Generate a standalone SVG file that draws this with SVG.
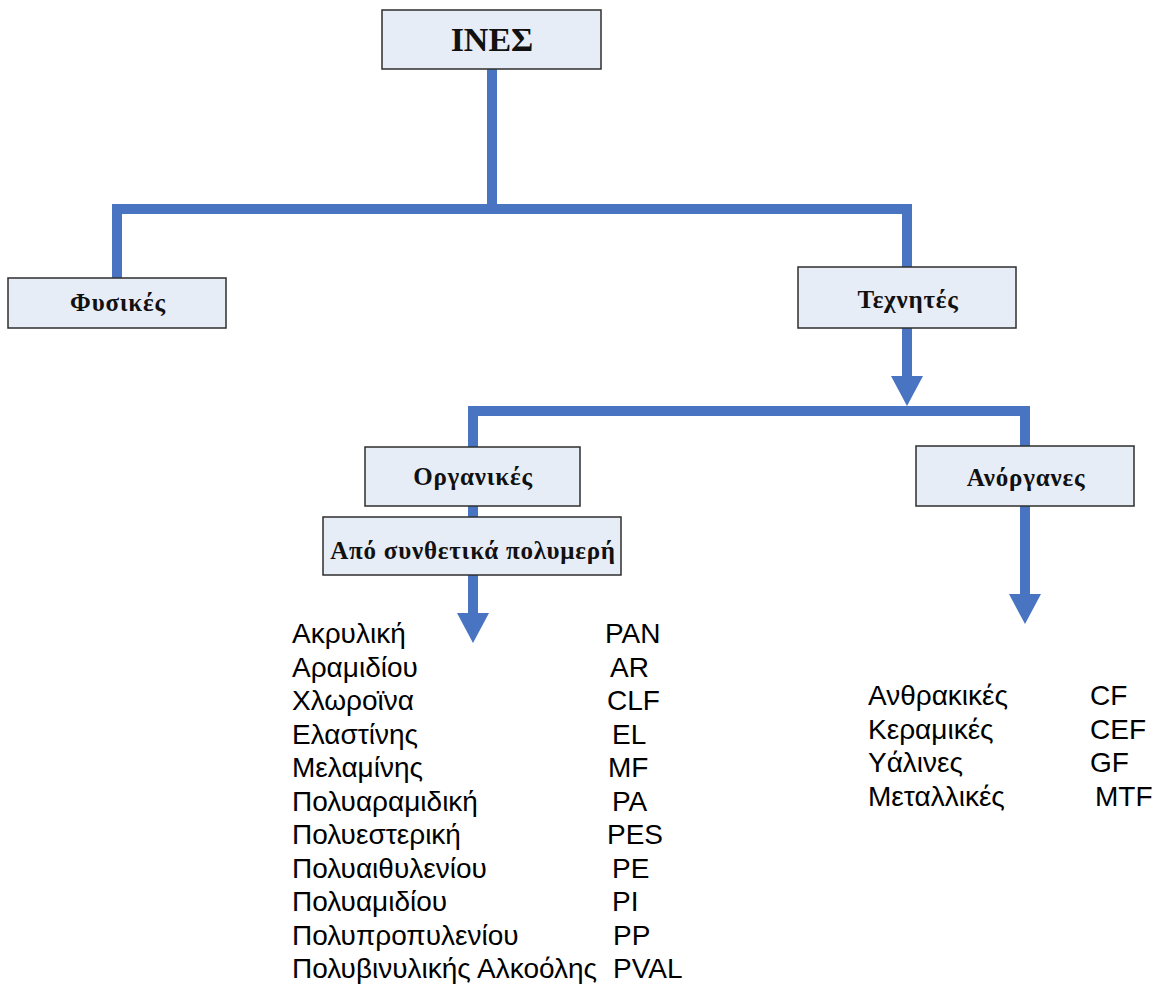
<svg xmlns="http://www.w3.org/2000/svg" width="1157" height="988" viewBox="0 0 1157 988">
<style>
.box{fill:#e7edf7;stroke:#2e2e2e;stroke-width:1.5}
.lbl{font-family:"Liberation Serif","DejaVu Serif",serif;font-weight:bold;fill:#111;text-anchor:middle;font-size:25px;letter-spacing:0.8px}
.con{fill:none;stroke:#4874c1;stroke-width:10;stroke-linejoin:miter}
.lst{font-family:"Liberation Sans",Arial,sans-serif;font-size:28px;fill:#000}
</style>
<defs>
<marker id="ah" markerUnits="userSpaceOnUse" markerWidth="30" markerHeight="32" refX="0" refY="16" orient="auto" viewBox="0 0 30 32">
<path d="M0,0 L30,16 L0,32 z" fill="#4874c1"/>
</marker>
</defs>
<rect width="1157" height="988" fill="#fff"/>
<g id="connectors">
<path class="con" d="M492,68 V209"/>
<path class="con" d="M117,278 V209 H907 V267"/>
<path class="con" d="M907,328 V376" marker-end="url(#ah)"/>
<path class="con" d="M473,447 V411 H1025 V446"/>
<path class="con" d="M473,506 V613" marker-end="url(#ah)"/>
<path class="con" d="M1025,506 V594" marker-end="url(#ah)"/>
</g>
<g id="ines">
<rect class="box" x="382" y="10" width="219" height="59"/>
<text class="lbl" x="492" y="51" style="font-size:34px;letter-spacing:0">ΙΝΕΣ</text>
</g>
<g id="fysikes">
<rect class="box" x="8" y="278" width="218" height="50"/>
<text class="lbl" x="118" y="311">Φυσικές</text>
</g>
<g id="technites">
<rect class="box" x="798" y="267" width="218" height="61"/>
<text class="lbl" x="908" y="308">Τεχνητές</text>
</g>
<g id="organikes">
<rect class="box" x="365" y="447" width="215" height="59"/>
<text class="lbl" x="473" y="485">Οργανικές</text>
</g>
<g id="synthetika">
<rect class="box" x="323" y="517" width="298" height="58"/>
<text class="lbl" x="473" y="559">Από συνθετικά πολυμερή</text>
</g>
<g id="anorganes">
<rect class="box" x="916" y="446" width="218" height="60"/>
<text class="lbl" x="1026" y="486">Ανόργανες</text>
</g>
<g id="organic-list" class="lst">
<text x="292" y="643">Ακρυλική</text>
<text x="292" y="676.5">Αραμιδίου</text>
<text x="292" y="710">Χλωροϊνα</text>
<text x="292" y="743.5">Ελαστίνης</text>
<text x="292" y="777">Μελαμίνης</text>
<text x="292" y="810.5">Πολυαραμιδική</text>
<text x="292" y="844">Πολυεστερική</text>
<text x="292" y="877.5">Πολυαιθυλενίου</text>
<text x="292" y="911">Πολυαμιδίου</text>
<text x="292" y="944.5">Πολυπροπυλενίου</text>
<text x="292" y="978">Πολυβινυλικής Αλκοόλης</text>
<text x="605" y="643">PAN</text>
<text x="610" y="676.5">AR</text>
<text x="607" y="710">CLF</text>
<text x="612" y="743.5">EL</text>
<text x="608" y="777">MF</text>
<text x="612" y="810.5">PA</text>
<text x="607" y="844">PES</text>
<text x="612" y="877.5">PE</text>
<text x="612" y="911">PI</text>
<text x="613" y="944.5">PP</text>
<text x="613" y="978">PVAL</text>
</g>
<g id="inorganic-list" class="lst">
<text x="868" y="705">Ανθρακικές</text>
<text x="868" y="738.5">Κεραμικές</text>
<text x="868" y="772">Υάλινες</text>
<text x="868" y="805.5">Μεταλλικές</text>
<text x="1090" y="705">CF</text>
<text x="1090" y="738.5">CEF</text>
<text x="1090" y="772">GF</text>
<text x="1095" y="805.5">MTF</text>
</g>
</svg>
